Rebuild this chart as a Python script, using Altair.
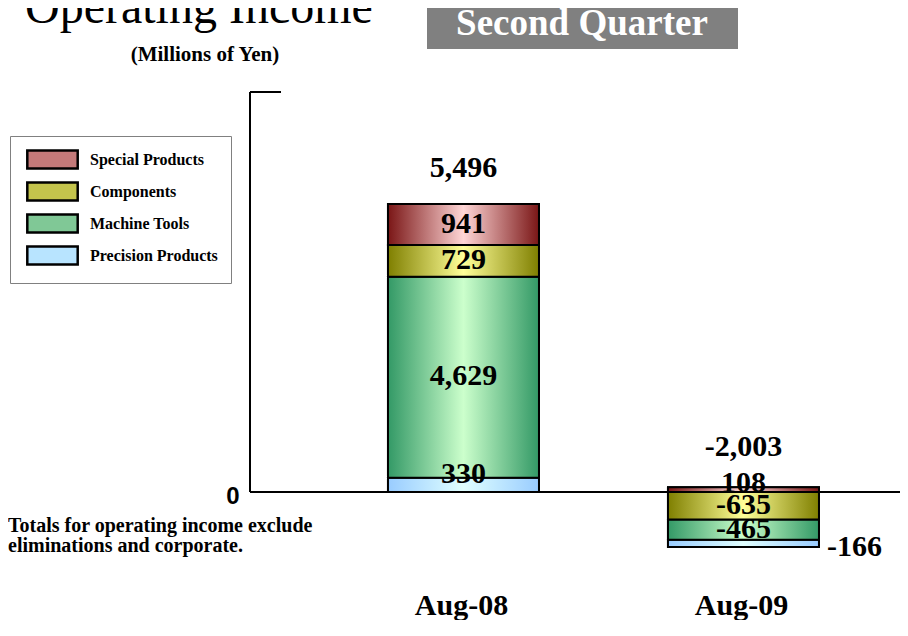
import altair as alt
import pandas as pd

# ---- data ----
periods = ["Aug-08", "Aug-09"]
segments = ["Precision Products", "Machine Tools", "Components", "Special Products"]
aug08_values = [330, 4629, 729, 941]
aug09_values = [-166, -465, -635, 108]
total_values = [5496, -2003]
legend_order = ["Special Products", "Components", "Machine Tools", "Precision Products"]

# ---- styles ----
edge_colors = {
    "Special Products": "#7a1616",
    "Components": "#7f7f00",
    "Machine Tools": "#339966",
    "Precision Products": "#99ccff",
}
center_colors = {
    "Special Products": "#ffd6d6",
    "Components": "#ffff99",
    "Machine Tools": "#ccffcc",
    "Precision Products": "#e0ffff",
}
legend_colors = {
    "Special Products": "#c47a7a",
    "Components": "#c4c44c",
    "Machine Tools": "#80c896",
    "Precision Products": "#b8e4ff",
}
SERIF = "Liberation Serif"
SANS = "Liberation Sans"
W, H = 650, 519
Y_DOMAIN = [-2740, 9210]
LABEL_EXPR = "replace(format(datum.{f}, ','), '\u2212', '-')"

# ---- stacking (positives up from zero, negatives down from zero) ----
rows = []
for period, vals in zip(periods, [aug08_values, aug09_values]):
    up = 0
    for seg, v in zip(segments, vals):
        if v >= 0:
            rows.append({"period": period, "segment": seg, "value": v, "lo": up, "hi": up + v})
            up += v
    down = 0
    for seg, v in reversed(list(zip(segments, vals))):
        if v < 0:
            rows.append({"period": period, "segment": seg, "value": v, "lo": down + v, "hi": down})
            down += v
df = pd.DataFrame(rows)
df["mid"] = (df["lo"] + df["hi"]) / 2

thin = {("Aug-08", "Precision Products"), ("Aug-09", "Special Products")}
side = {("Aug-09", "Precision Products")}
df["place"] = [
    "thin" if (p, s) in thin else ("side" if (p, s) in side else "inside")
    for p, s in zip(df["period"], df["segment"])
]

tops = df.groupby("period")["hi"].max()
tot = pd.DataFrame({"period": periods, "total": total_values,
                    "top": [tops[p] for p in periods]})

x_enc = alt.X(
    "period:N",
    sort=periods,
    scale=alt.Scale(domain=periods, paddingInner=0.4607, paddingOuter=0.3911, align=0.630),
    axis=alt.Axis(title=None, labelAngle=0, domain=False, ticks=False, grid=False,
                  labelFont=SERIF, labelFontWeight="bold", labelFontSize=30,
                  labelColor="black", labelPadding=3, labelBaseline="alphabetic",
                  labelOffset=-2),
)
y_scale = alt.Scale(domain=Y_DOMAIN, nice=False, zero=False)
y_axis = alt.Axis(title=None, values=[0], domain=False, ticks=False, grid=False,
                  labelFont=SANS, labelFontWeight="bold", labelFontSize=24,
                  labelColor="black", labelPadding=11, labelOffset=5)

one = pd.DataFrame({"k": [0]})

zero_line = alt.Chart(one).mark_rule(color="black", strokeWidth=2).encode(
    y=alt.Y(datum=0, type="quantitative", scale=y_scale, axis=y_axis),
    x=alt.value(0), x2=alt.value(W))
y_line = alt.Chart(one).mark_rule(color="black", strokeWidth=2).encode(
    x=alt.value(0), y=alt.Y(datum=0, type="quantitative"), y2=alt.datum(Y_DOMAIN[1]))
top_tick = alt.Chart(one).mark_rule(color="black", strokeWidth=2).encode(
    y=alt.Y(datum=Y_DOMAIN[1], type="quantitative"), x=alt.value(0), x2=alt.value(31))

base = alt.Chart(df).mark_bar(stroke="black", strokeWidth=2).encode(
    x=x_enc,
    y=alt.Y("lo:Q", scale=y_scale, axis=y_axis),
    y2="hi:Q",
    color=alt.Color(
        "segment:N",
        scale=alt.Scale(domain=legend_order, range=[legend_colors[s] for s in legend_order]),
        legend=alt.Legend(
            title=None, orient="none", legendX=-240, legendY=44, direction="vertical",
            symbolType="M-2.8,-1H2.8V1H-2.8Z", symbolSize=324,
            symbolStrokeColor="black", symbolStrokeWidth=2.5, symbolOpacity=1,
            symbolOffset=19, labelOffset=27,
            labelFont=SERIF, labelFontWeight="bold", labelFontSize=16, labelColor="black",
            padding=13, rowPadding=3, strokeColor="#808080", fillColor="white",
        ),
    ),
)

grad_layers = []
for seg in segments:
    g = alt.Gradient(
        gradient="linear",
        stops=[alt.GradientStop(color=edge_colors[seg], offset=0),
               alt.GradientStop(color=center_colors[seg], offset=0.5),
               alt.GradientStop(color=edge_colors[seg], offset=1)],
        x1=0, x2=1, y1=0, y2=0,
    )
    grad_layers.append(
        alt.Chart(df[df["segment"] == seg]).mark_bar(fill=g, stroke="black", strokeWidth=2)
        .encode(x=x_enc, y=alt.Y("lo:Q"), y2="hi:Q")
    )

lbl = dict(font=SERIF, fontWeight="bold", fontSize=30, color="black", baseline="alphabetic")


def seg_text(frame, **kw):
    return alt.Chart(frame).transform_calculate(lab=LABEL_EXPR.format(f="value")).mark_text(
        **lbl, **kw)


inside_txt = seg_text(df[df["place"] == "inside"], dy=8).encode(
    x=x_enc, y=alt.Y("mid:Q"), text="lab:N")
thin_txt = seg_text(df[df["place"] == "thin"], dy=5).encode(
    x=x_enc, y=alt.Y("hi:Q"), text="lab:N")
side_txt = seg_text(df[df["place"] == "side"], dx=8, dy=9, align="left").encode(
    x=alt.X("period:N", sort=periods, bandPosition=1), y=alt.Y("lo:Q"), text="lab:N")
tot1 = alt.Chart(tot[tot["period"] == periods[0]]).transform_calculate(
    lab=LABEL_EXPR.format(f="total")).mark_text(dy=-27, **lbl).encode(
    x=x_enc, y=alt.Y("top:Q"), text="lab:N")
tot2 = alt.Chart(tot[tot["period"] == periods[1]]).transform_calculate(
    lab=LABEL_EXPR.format(f="total")).mark_text(dy=-31, **lbl).encode(
    x=x_enc, y=alt.Y("top:Q"), text="lab:N")

title = alt.Chart(one).mark_text(text="Operating Income", font=SERIF, fontSize=48,
                                 align="left", baseline="alphabetic", color="black").encode(
    x=alt.value(-225), y=alt.value(-69))
quarter_box = alt.Chart(one).mark_rect(color="#808080").encode(
    x=alt.value(177), x2=alt.value(488), y=alt.value(-92), y2=alt.value(-43))
quarter_txt = alt.Chart(one).mark_text(text="Second Quarter", font=SERIF, fontWeight="bold",
                                       fontSize=37, color="white", align="center",
                                       baseline="alphabetic").encode(
    x=alt.value(332), y=alt.value(-57))
units_txt = alt.Chart(one).mark_text(text="(Millions of Yen)", font=SERIF, fontWeight="bold",
                                     fontSize=21, color="black", align="center",
                                     baseline="alphabetic").encode(
    x=alt.value(-45), y=alt.value(-31))
note_txt = alt.Chart(one).mark_text(
    text=["Totals for operating income exclude", "eliminations and corporate."],
    font=SERIF, fontWeight="bold", fontSize=20, lineHeight=20, color="black",
    align="left", baseline="alphabetic").encode(
    x=alt.value(-242), y=alt.value(440))

chart = alt.layer(
    zero_line, y_line, top_tick, base, *grad_layers,
    inside_txt, thin_txt, side_txt, tot1, tot2,
    title, quarter_box, quarter_txt, units_txt, note_txt,
).properties(
    width=W, height=H,
    padding={"left": 242, "top": 84, "right": 0, "bottom": 9},
    autosize=alt.AutoSizeParams(type="none"),
    background="white",
).configure_view(stroke=None)

chart.save("out.html", embed_options={"renderer": "svg", "actions": False})
